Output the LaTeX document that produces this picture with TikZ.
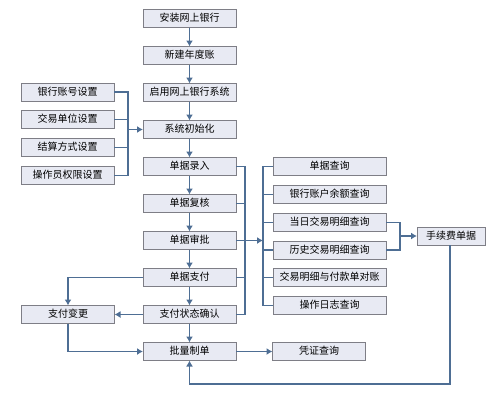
\documentclass[tikz,border=0pt]{standalone}
\usepackage{fontspec}
\newfontfamily\cjk{Noto Sans CJK SC}
\definecolor{boxfill}{HTML}{E8EAF3}
\definecolor{boxline}{HTML}{7E7E86}
\definecolor{flowblue}{HTML}{4E6E94}
\usetikzlibrary{arrows.meta, positioning, calc}

\begin{document}
\begin{tikzpicture}[
    x=1pt, y=-1pt,
    node distance=19pt and 10pt,
    box/.style={rectangle, draw=boxline, line width=0.8pt, fill=boxfill,
                minimum width=93pt, minimum height=18pt, inner sep=0pt,
                outer sep=0pt, text height=8pt, text depth=1.5pt,
                text centered, font=\cjk\fontsize{10}{12}\selectfont},
    qbox/.style={box, minimum width=113pt},
    ln/.style={line width=1.2pt, flowblue},
    arr/.style={-{Latex[length=6pt, width=7pt]}, line width=1.2pt, flowblue}
  ]
  \useasboundingbox (0,0) rectangle (486,394);
  % main column
  \node[box] (install) at (189.5,18.5) {安装网上银行};
  \node[box, below=of install] (newyear) {新建年度账};
  \node[box, below=of newyear] (enable) {启用网上银行系统};
  \node[box, below=of enable] (init) {系统初始化};
  \node[box, below=of init] (entry) {单据录入};
  \node[box, below=of entry] (review) {单据复核};
  \node[box, below=of review] (approve) {单据审批};
  \node[box, below=of approve] (pay) {单据支付};
  \node[box, below=of pay] (confirm) {支付状态确认};
  \node[box, below=of confirm] (batch) {批量制单};
  % settings
  \node[box] (acct) at (67.5,92) {银行账号设置};
  \node[box, below=9.7pt of acct] (unit) {交易单位设置};
  \node[box, below=9.7pt of unit] (settle) {结算方式设置};
  \node[box, below=9.7pt of settle] (oper) {操作员权限设置};
  \node[box] (change) at (68,314.5) {支付变更};
  % queries
  \node[qbox] (q1) at (329.5,166.5) {单据查询};
  \node[qbox, below=9.8pt of q1] (q2) {银行账户余额查询};
  \node[qbox, below=9.8pt of q2] (q3) {当日交易明细查询};
  \node[qbox, below=9.8pt of q3] (q4) {历史交易明细查询};
  \node[qbox, below=9.8pt of q4] (q5) {交易明细与付款单对账};
  \node[qbox, below=9.8pt of q5] (q6) {操作日志查询};
  \node[box, minimum width=68pt] (fee) at (451,236) {手续费单据};
  \node[box] (voucher) at (319,351.5) {凭证查询};

  \coordinate (lb) at (128,129.5);
  \coordinate (rb) at (245,240.5);
  \coordinate (qb) at (263,240.5);
  \coordinate (fb) at (400,236);
  \coordinate (loop) at (450,384);

  \foreach \a/\b in {install/newyear, newyear/enable, enable/init, init/entry,
                     entry/review, review/approve, approve/pay, pay/confirm,
                     confirm/batch}
    \draw[arr] (\a) -- (\b);

  \foreach \s in {acct, unit, settle, oper}
    \draw[ln] (\s.east) -| (lb);
  \draw[arr] (lb) -- (init.west);

  \foreach \s in {entry, review, approve, pay, confirm}
    \draw[ln] (\s.east) -| (rb);
  \draw[arr] (rb) -- (qb);
  \foreach \q in {q1, q2, q3, q4, q5, q6}
    \draw[ln] (qb) |- (\q.west);

  \draw[ln] (q3.east) -| (fb);
  \draw[ln] (q4.east) -| (fb);
  \draw[arr] (fb) -- (fee.west);
  \draw[arr] (fee.south -| loop) -- (loop) -| (batch.south);

  \draw[arr] (pay.west) -| (change.north);
  \draw[arr] (confirm.west) -- (change.east);
  \draw[arr] (change.south) |- (batch.west);
  \draw[arr] (batch.east) -- (voucher.west);
\end{tikzpicture}
\end{document}
